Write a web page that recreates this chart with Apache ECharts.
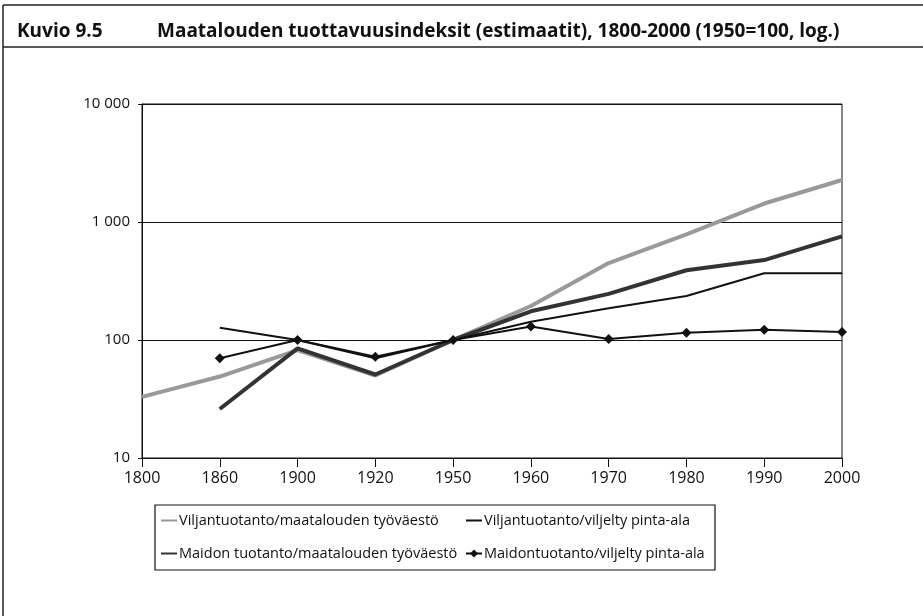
<!DOCTYPE html>
<html>
<head>
<meta charset="utf-8">
<script src="https://cdn.jsdelivr.net/npm/echarts@6/dist/echarts.min.js"></script>
<style>
  html, body { margin: 0; padding: 0; background: #fff; }
  #chart { width: 923px; height: 616px; }
</style>
</head>
<body>
<div id="chart"></div>
<script>
// vuodet (x-akseli)
var years = ['1800', '1860', '1900', '1920', '1950', '1960', '1970', '1980', '1990', '2000'];

// indeksit, 1950 = 100
var viljaTyo = [33, 49, 82, 50, 100, 194, 449, 787, 1434, 2270];
var viljaAla = [null, 127, 100, 70, 100, 143, 186, 236, 368, 368];
var maitoTyo = [null, 26, 85, 51, 100, 175, 246, 390, 476, 756];
var maitoAla = [null, 70, 100, 72, 100, 130, 102, 115, 122, 117];

var names = [
  'Viljantuotanto/maatalouden työväestö',
  'Viljantuotanto/viljelty pinta-ala',
  'Maidon tuotanto/maatalouden työväestö',
  'Maidontuotanto/viljelty pinta-ala'
];

var font = '"Open Sans", "Noto Sans", sans-serif';

var chart = echarts.init(document.getElementById('chart'));

function spaced(v) {
  return String(v).replace(/\B(?=(\d{3})+(?!\d))/g, ' ');
}

// pelkkä viiva selitteeseen, ei symbolia
function lineOnly(name) {
  return { name: name, itemStyle: { opacity: 0 } };
}

var legendText = { fontFamily: font, fontSize: 14.5, color: '#111', padding: [0, 0, 0, -3] };
var titleText = { fontFamily: font, fontSize: 19, fontWeight: 'bold', color: '#111' };

var option = {
  backgroundColor: '#fff',
  animation: false,
  title: [
    { text: 'Kuvio 9.5', left: 12, top: 17, textStyle: titleText },
    { text: 'Maatalouden tuottavuusindeksit (estimaatit), 1800-2000 (1950=100, log.)', left: 152, top: 17,
      textStyle: titleText }
  ],
  grid: {
    left: 142, right: 81, top: 104, bottom: 158,
    show: true, borderColor: '#111', borderWidth: 1
  },
  xAxis: {
    type: 'category',
    data: years,
    boundaryGap: false,
    axisLine: { lineStyle: { color: '#111', width: 1 } },
    axisTick: { show: true, alignWithLabel: true, length: 9, lineStyle: { color: '#111' } },
    axisLabel: { fontFamily: font, fontSize: 16, color: '#111', margin: 12 },
    splitLine: { show: false }
  },
  yAxis: {
    type: 'log',
    logBase: 10,
    min: 10,
    max: 10000,
    axisLine: { show: true, lineStyle: { color: '#111', width: 1 } },
    axisTick: { show: true, inside: false, length: 4, lineStyle: { color: '#111' } },
    axisLabel: { fontFamily: font, fontSize: 15, color: '#111', margin: 12, formatter: spaced },
    splitLine: { show: true, lineStyle: { color: '#111', width: 1 } },
    minorTick: { show: false }
  },
  legend: [
    {
      data: [lineOnly(names[0]), lineOnly(names[2])],
      orient: 'vertical',
      left: 155, top: 508,
      itemGap: 18, itemWidth: 16, itemHeight: 10,
      textStyle: legendText
    },
    {
      data: [lineOnly(names[1]), names[3]],
      orient: 'vertical',
      left: 460, top: 508,
      itemGap: 18, itemWidth: 16, itemHeight: 10,
      textStyle: legendText
    }
  ],
  graphic: [
    // kehys
    { type: 'line', shape: { x1: 3, y1: 5, x2: 923, y2: 5 }, style: { stroke: '#222', lineWidth: 1.5 } },
    { type: 'line', shape: { x1: 3, y1: 47, x2: 923, y2: 47 }, style: { stroke: '#222', lineWidth: 1.5 } },
    { type: 'line', shape: { x1: 3, y1: 5, x2: 3, y2: 616 }, style: { stroke: '#222', lineWidth: 1.5 } },
    // selitteen laatikko
    { type: 'rect', shape: { x: 155, y: 505, width: 560, height: 65 },
      style: { fill: 'none', stroke: '#111', lineWidth: 1.2 }, z: -1 }
  ],
  series: [
    {
      name: names[0], type: 'line', data: viljaTyo,
      symbol: 'none',
      lineStyle: { color: '#999', width: 4 },
      itemStyle: { color: '#999' }, z: 2
    },
    {
      name: names[1], type: 'line', data: viljaAla,
      symbol: 'none',
      lineStyle: { color: '#111', width: 2 },
      itemStyle: { color: '#111' }, z: 4
    },
    {
      name: names[2], type: 'line', data: maitoTyo,
      symbol: 'none',
      lineStyle: { color: '#333', width: 4 },
      itemStyle: { color: '#333' }, z: 3
    },
    {
      name: names[3], type: 'line', data: maitoAla,
      symbol: 'diamond', symbolSize: 10,
      lineStyle: { color: '#111', width: 2 },
      itemStyle: { color: '#111' }, z: 5
    }
  ]
};

chart.setOption(option);
</script>
</body>
</html>
